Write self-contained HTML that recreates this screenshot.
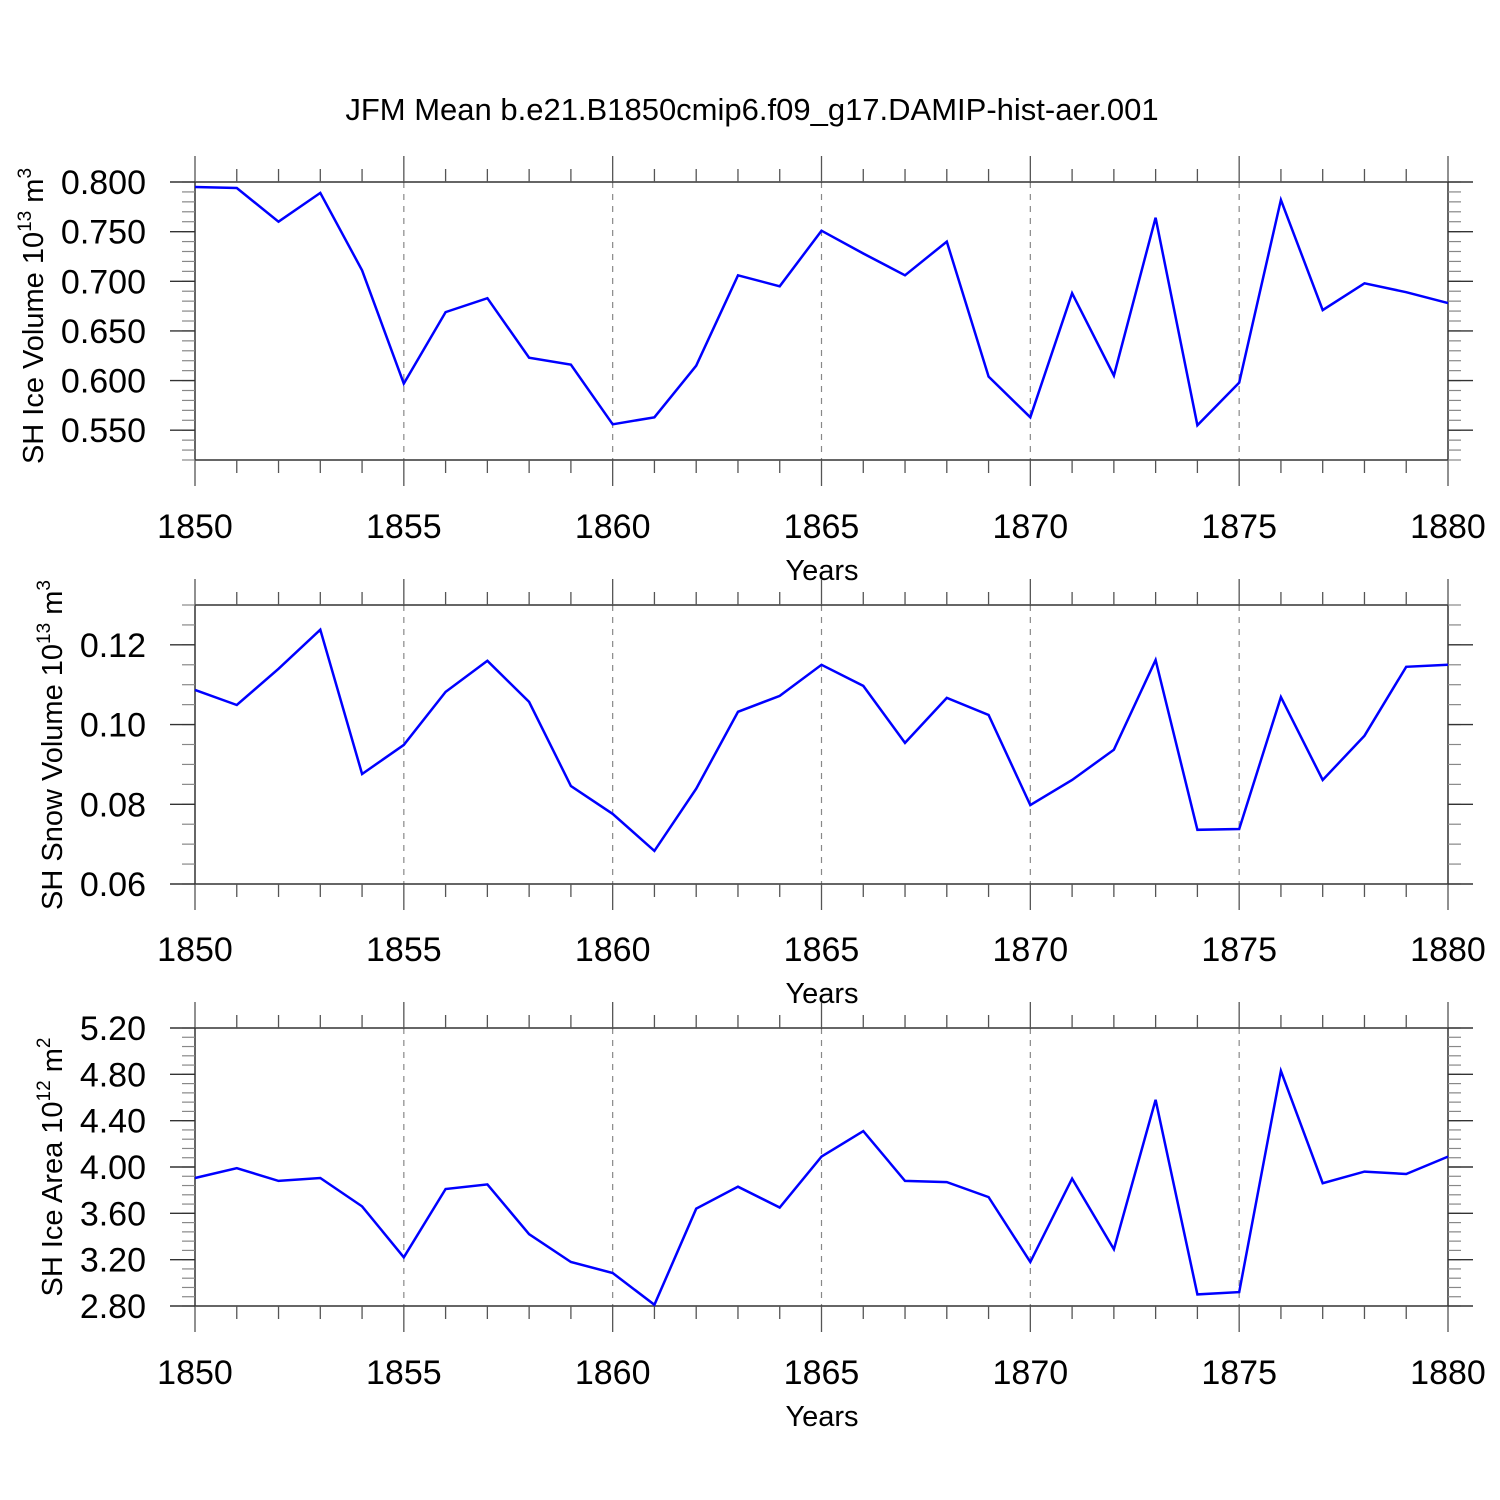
<!DOCTYPE html>
<html><head><meta charset="utf-8"><style>
html,body{margin:0;padding:0;background:#fff}
svg{display:block;font-family:"Liberation Sans",Arial,sans-serif}
</style></head><body>
<svg id="chart" width="1500" height="1500" viewBox="0 0 1500 1500" xmlns="http://www.w3.org/2000/svg">
<text x="752" y="120" font-size="31" text-anchor="middle">JFM Mean b.e21.B1850cmip6.f09_g17.DAMIP-hist-aer.001</text>
</svg>
<script>
const years = [1850,1851,1852,1853,1854,1855,1856,1857,1858,1859,1860,1861,1862,1863,1864,1865,1866,1867,1868,1869,1870,1871,1872,1873,1874,1875,1876,1877,1878,1879,1880];
const iceVolume = [0.795,0.794,0.760,0.789,0.711,0.597,0.669,0.683,0.623,0.616,0.556,0.563,0.615,0.706,0.695,0.751,0.728,0.706,0.740,0.604,0.563,0.688,0.605,0.764,0.555,0.598,0.782,0.671,0.698,0.689,0.678];
const snowVolume = [0.1087,0.1049,0.1140,0.1238,0.0876,0.0949,0.1082,0.1160,0.1057,0.0846,0.0776,0.0683,0.0839,0.1032,0.1072,0.1150,0.1097,0.0954,0.1067,0.1024,0.0798,0.0861,0.0937,0.1162,0.0736,0.0738,0.1069,0.0861,0.0972,0.1145,0.1150];
const iceArea = [3.905,3.99,3.88,3.905,3.66,3.22,3.81,3.85,3.42,3.18,3.085,2.81,3.64,3.83,3.65,4.09,4.31,3.88,3.87,3.74,3.18,3.90,3.29,4.58,2.90,2.92,4.83,3.86,3.96,3.94,4.09];
const xTickLabels = ["1850","1855","1860","1865","1870","1875","1880"];
const volTicks = ["0.800","0.750","0.700","0.650","0.600","0.550"];
const snowTicks = ["0.12","0.10","0.08","0.06"];
const areaTicks = ["5.20","4.80","4.40","4.00","3.60","3.20","2.80"];

const NS="http://www.w3.org/2000/svg";
const svg=document.getElementById('chart');
const L=195,R=1448;
function xs(v){return L+(v-1850)/(1880-1850)*(R-L);}
function mk(tag,attrs,parent){const e=document.createElementNS(NS,tag);for(const k in attrs)e.setAttribute(k,attrs[k]);(parent||svg).appendChild(e);return e;}

const panels=[
 {name:'ice-volume',top:182,bot:460,ymin:0.52,ymax:0.80,yTickVals:volTicks,minorStep:0.01,data:iceVolume,ttl:['SH Ice Volume 10','13',' m','3'],tx:33,ty:316,xl:538,yl:580},
 {name:'snow-volume',top:605,bot:884,ymin:0.06,ymax:0.13,yTickVals:snowTicks,minorStep:0.005,data:snowVolume,ttl:['SH Snow Volume 10','13',' m','3'],tx:52,ty:745,xl:961,yl:1003},
 {name:'ice-area',top:1028,bot:1306,ymin:2.80,ymax:5.20,yTickVals:areaTicks,minorStep:0.08,data:iceArea,ttl:['SH Ice Area 10','12',' m','2'],tx:52,ty:1167,xl:1384,yl:1426}
];

panels.forEach(p=>{
 const g=mk('g',{});
 
 
 const ys=v=>p.bot-(v-p.ymin)/(p.ymax-p.ymin)*(p.bot-p.top);
 xTickLabels.forEach(t=>{const v=+t;if(v===1850||v===1880)return;
  const ln=mk('line',{x1:xs(v),x2:xs(v),y1:p.top,y2:p.bot,stroke:'#888','stroke-width':1.2,'stroke-dasharray':'6,6'},g);
  
  
 });
 const fr=mk('rect',{x:L,y:p.top,width:R-L,height:p.bot-p.top,fill:'none',stroke:'#333','stroke-width':1.5},g);
 
 
 for(let yr=1850;yr<=1880;yr++){
  const major=(yr%5===0);const len=major?26:13;const x=xs(yr);
  mk('line',{x1:x,x2:x,y1:p.top,y2:p.top-len,stroke:'#555','stroke-width':1.3},g);
  mk('line',{x1:x,x2:x,y1:p.bot,y2:p.bot+len,stroke:'#555','stroke-width':1.3},g);
 }
 xTickLabels.forEach(t=>{
  const tx=mk('text',{x:xs(+t),y:p.xl,'font-size':34,'text-anchor':'middle'},g);tx.textContent=t;
  
  
 });
 const xt=mk('text',{x:822,y:p.yl,'font-size':29,'text-anchor':'middle'},g);xt.textContent='Years';
 
 
 const n=Math.round((p.ymax-p.ymin)/p.minorStep);
 for(let i=0;i<=n;i++){const v=p.ymin+i*p.minorStep;const y=ys(v);
  mk('line',{x1:L,x2:L-13,y1:y,y2:y,stroke:'#888','stroke-width':1.2},g);
  mk('line',{x1:R,x2:R+13,y1:y,y2:y,stroke:'#888','stroke-width':1.2},g);
 }
 p.yTickVals.forEach(t=>{const y=ys(+t);
  mk('line',{x1:L,x2:L-25,y1:y,y2:y,stroke:'#333','stroke-width':1.4},g);
  mk('line',{x1:R,x2:R+25,y1:y,y2:y,stroke:'#333','stroke-width':1.4},g);
  const tx=mk('text',{x:146,y:y+12,'font-size':34,'text-anchor':'end'},g);tx.textContent=t;
  
  
 });
 const yt=mk('text',{x:0,y:0,'font-size':29,'text-anchor':'middle',transform:`translate(${p.tx+10},${p.ty}) rotate(-90)`},g);
 
 
 p.ttl.forEach((s,i)=>{const ts=document.createElementNS(NS,'tspan');
  if(i%2===1){ts.setAttribute('font-size','19');ts.setAttribute('dy','-12');}
  else if(i>0){ts.setAttribute('dy','12');}
  ts.textContent=s;yt.appendChild(ts);});
 const pts=p.data.map((v,i)=>xs(years[i]).toFixed(1)+','+ys(v).toFixed(1)).join(' ');
 const pl=mk('polyline',{points:pts,fill:'none',stroke:'#0000ff','stroke-width':2.5,'stroke-linejoin':'miter'},g);
 
 
});
</script>
</body></html>
